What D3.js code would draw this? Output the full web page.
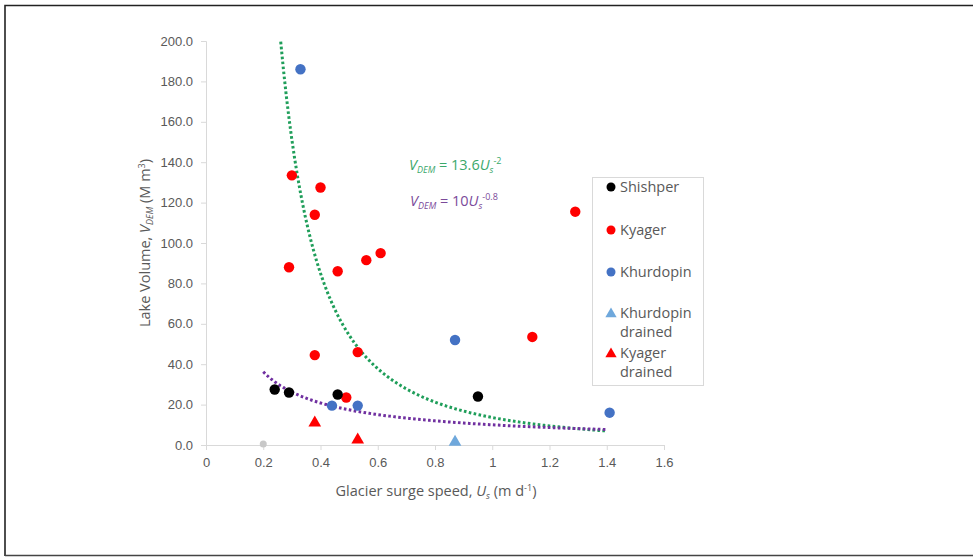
<!DOCTYPE html>
<html>
<head>
<meta charset="utf-8">
<script src="https://cdn.jsdelivr.net/npm/d3@7"></script>
<style>
  html, body { margin: 0; padding: 0; background: #fff; }
  svg { display: block; font-family: "Open Sans", Lato, sans-serif; }
</style>
</head>
<body>
<svg id="chart" width="973" height="557"></svg>
<script>
// Lake volume vs. glacier surge speed, per glacier
const shishperSpeed = [0.24, 0.29, 0.46, 0.95];
const shishperVolume = [27.5, 26, 25, 24];

const kyagerSpeed = [0.30, 0.40, 0.38, 0.29, 0.46, 0.38, 0.56, 0.61, 1.29, 1.14, 0.53, 0.49];
const kyagerVolume = [133.5, 127.5, 114, 88, 86, 44.5, 91.5, 95, 115.5, 53.5, 46, 23.5];

const khurdopinSpeed = [0.33, 0.87, 0.44, 0.53, 1.41];
const khurdopinVolume = [186, 52, 19.5, 19.5, 16];

const khurdopinDrainedSpeed = [0.87];
const khurdopinDrainedVolume = [1.5];

const kyagerDrainedSpeed = [0.38, 0.53];
const kyagerDrainedVolume = [11, 2.5];

const otherSpeed = [0.2];
const otherVolume = [0.5];

// Power-law fits V = a * U^b, as printed on the chart
const fitUpper = { a: 13.6, b: -2, from: 0.261, to: 1.4 };
const fitLower = { a: 10, b: -0.8, from: 0.2, to: 1.4 };

const xTicks = [0, 0.2, 0.4, 0.6, 0.8, 1, 1.2, 1.4, 1.6];
const yTicks = [0, 20, 40, 60, 80, 100, 120, 140, 160, 180, 200];

const legendLabels = [["Shishper"], ["Kyager"], ["Khurdopin"], ["Khurdopin", "drained"], ["Kyager", "drained"]];

const svg = d3.select("#chart");
const x = d3.scaleLinear().domain([0, 1.6]).range([206, 664]);
const y = d3.scaleLinear().domain([0, 200]).range([445, 41]);

// outer frame (top, left, bottom)
svg.append("path")
  .attr("d", "M5,556 L5,5.5 L973,5.5")
  .attr("fill", "none").attr("stroke", "#222").attr("stroke-width", 1.6);
svg.append("line").attr("x1", 5).attr("x2", 973).attr("y1", 555.5).attr("y2", 555.5)
  .attr("stroke", "#444").attr("stroke-width", 1.6);

const axisColor = "#d9d9d9";
const tickText = "#595959";

// x axis
const xAxis = svg.append("g").attr("transform", `translate(0,${y(0)})`)
  .call(d3.axisBottom(x).tickValues(xTicks).tickSize(5).tickPadding(8)
    .tickFormat(d => d3.format("")(+d.toFixed(1))));
xAxis.select(".domain").attr("stroke", axisColor);
xAxis.selectAll(".tick line").attr("stroke", axisColor);
xAxis.selectAll("text").attr("fill", tickText).attr("font-size", 13);

// y axis
const yAxis = svg.append("g").attr("transform", `translate(${x(0)},0)`)
  .call(d3.axisLeft(y).tickValues(yTicks).tickSize(5).tickPadding(8).tickFormat(d3.format(".1f")));
yAxis.select(".domain").attr("stroke", axisColor);
yAxis.selectAll(".tick line").attr("stroke", axisColor);
yAxis.selectAll("text").attr("fill", tickText).attr("font-size", 13);

// axis titles
const xt = svg.append("text").attr("x", 436).attr("y", 496).attr("text-anchor", "middle")
  .attr("fill", tickText).attr("font-size", 14.5);
xt.append("tspan").text("Glacier surge speed, ");
xt.append("tspan").attr("font-style", "italic").text("U");
xt.append("tspan").attr("font-style", "italic").attr("font-size", 9).attr("dy", 3).text("s");
xt.append("tspan").attr("dy", -3).text(" (m d");
xt.append("tspan").attr("font-size", 9).attr("dy", -5).text("-1");
xt.append("tspan").attr("dy", 5).text(")");

const yt = svg.append("text").attr("transform", "translate(150,243) rotate(-90)")
  .attr("text-anchor", "middle").attr("fill", tickText).attr("font-size", 14.5);
yt.append("tspan").text("Lake Volume, ");
yt.append("tspan").attr("font-style", "italic").text("V");
yt.append("tspan").attr("font-style", "italic").attr("font-size", 9).attr("dy", 3).text("DEM");
yt.append("tspan").attr("dy", -3).text(" (M m");
yt.append("tspan").attr("font-size", 9).attr("dy", -5).text("3");
yt.append("tspan").attr("dy", 5).text(")");

// fitted curves
function fitPoints(f) {
  const n = 120, pts = [];
  for (let i = 0; i <= n; i++) {
    const u = f.from + (f.to - f.from) * i / n;
    pts.push([u, f.a * Math.pow(u, f.b)]);
  }
  return pts;
}
const line = d3.line().x(d => x(d[0])).y(d => y(d[1])).curve(d3.curveLinear);
svg.append("path").attr("d", line(fitPoints(fitUpper)))
  .attr("fill", "none").attr("stroke", "#1f9e5a").attr("stroke-width", 3)
  .attr("stroke-dasharray", "2.6,2.4");
svg.append("path").attr("d", line(fitPoints(fitLower)))
  .attr("fill", "none").attr("stroke", "#7030a0").attr("stroke-width", 3)
  .attr("stroke-dasharray", "2.6,2.4");

// equations
function equation(xp, yp, color, coef, expo) {
  const t = svg.append("text").attr("x", xp).attr("y", yp).attr("fill", color).attr("font-size", 14.5);
  t.append("tspan").attr("font-style", "italic").text("V");
  t.append("tspan").attr("font-style", "italic").attr("font-size", 9).attr("dy", 3).text("DEM");
  t.append("tspan").attr("dy", -3).text(" = " + coef);
  t.append("tspan").attr("font-style", "italic").text("U");
  t.append("tspan").attr("font-style", "italic").attr("font-size", 9).attr("dy", 3).text("s");
  t.append("tspan").attr("font-size", 9).attr("dy", -9).text(expo);
}
equation(409, 170, "#3aa86b", "13.6", "-2");
equation(410, 206, "#7b4a9a", "10", "-0.8");

// markers
function dots(xs, ys, color, r) {
  svg.append("g").selectAll("circle").data(xs.map((v, i) => [v, ys[i]])).join("circle")
    .attr("cx", d => x(d[0])).attr("cy", d => y(d[1])).attr("r", r).attr("fill", color);
}
function tris(xs, ys, color) {
  const sym = d3.symbol().type(d3.symbolTriangle).size(70);
  svg.append("g").selectAll("path").data(xs.map((v, i) => [v, ys[i]])).join("path")
    .attr("d", sym).attr("transform", d => `translate(${x(d[0])},${y(d[1])})`).attr("fill", color);
}
dots(otherSpeed, otherVolume, "#c8c8c8", 3.5);
dots(kyagerSpeed, kyagerVolume, "#ff0000", 5.2);
dots(khurdopinSpeed, khurdopinVolume, "#4472c4", 5.2);
dots(shishperSpeed, shishperVolume, "#000000", 5.2);
tris(khurdopinDrainedSpeed, khurdopinDrainedVolume, "#6fa8dc");
tris(kyagerDrainedSpeed, kyagerDrainedVolume, "#ff0000");

// legend
const lg = svg.append("g");
lg.append("rect").attr("x", 592.5).attr("y", 177.5).attr("width", 111).attr("height", 208)
  .attr("fill", "#fff").attr("stroke", "#d9d9d9");
const legendMarks = [
  { type: "c", color: "#000000", y: 187 },
  { type: "c", color: "#ff0000", y: 230 },
  { type: "c", color: "#4472c4", y: 272 },
  { type: "t", color: "#6fa8dc", y: 313 },
  { type: "t", color: "#ff0000", y: 353 }
];
legendMarks.forEach((m, i) => {
  if (m.type === "c") {
    lg.append("circle").attr("cx", 611).attr("cy", m.y).attr("r", 4.5).attr("fill", m.color);
  } else {
    lg.append("path").attr("d", d3.symbol().type(d3.symbolTriangle).size(55))
      .attr("transform", `translate(611,${m.y + 1})`).attr("fill", m.color);
  }
  const t = lg.append("text").attr("x", 620).attr("y", m.y + 5).attr("fill", tickText).attr("font-size", 14.5);
  legendLabels[i].forEach((s, k) => {
    t.append("tspan").attr("x", 620).attr("dy", k === 0 ? 0 : 19).text(s);
  });
});
</script>
</body>
</html>
